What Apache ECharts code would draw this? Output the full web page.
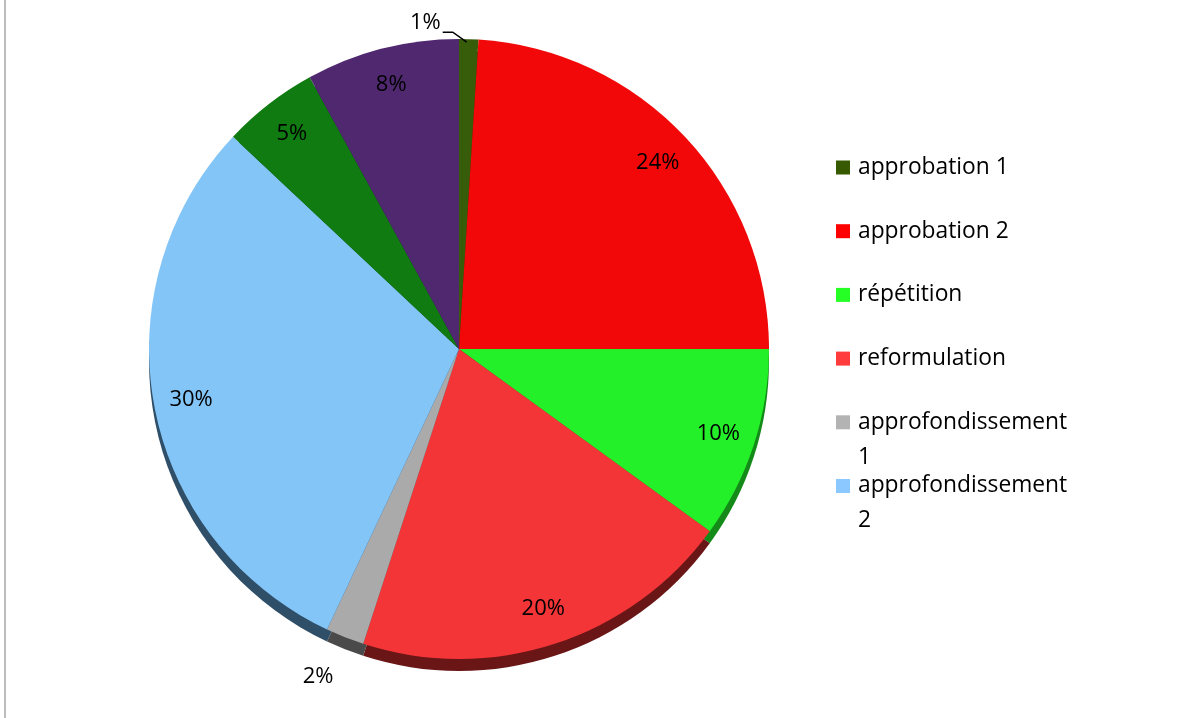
<!DOCTYPE html>
<html>
<head>
<meta charset="utf-8">
<script src="https://cdn.jsdelivr.net/npm/echarts@6/dist/echarts.min.js"></script>
<style>
html,body{margin:0;padding:0;background:#fff;}
#chart{width:1195px;height:718px;}
</style>
</head>
<body>
<div id="chart"></div>
<script>
const categories = ['approbation 1', 'approbation 2', 'répétition', 'reformulation', 'approfondissement 1', 'approfondissement 2', 'série 7', 'série 8'];
const values = [1, 24, 10, 20, 2, 30, 5, 8];
const legendNames = ['approbation 1', 'approbation 2', 'répétition', 'reformulation', 'approfondissement 1', 'approfondissement 2'];
const colors = ['#385D0A', '#F20808', '#24F02A', '#F33538', '#AAAAAA', '#84C5F7', '#0F7B10', '#4F2870'];
const legendColors = ['#375A00', '#FF0000', '#26FF26', '#FF3B3B', '#B3B3B3', '#8AC8FF', '#0F7B10', '#4F2870'];
const sideColors = ['#223A06', '#6E0A0A', '#148A18', '#6A1616', '#4A4A4A', '#2F4E68', '#084008', '#2A1540'];

const C = [459, 349];
const R = 310;

const chart = echarts.init(document.getElementById('chart'));

const mainData = categories.map((n, i) => ({
  name: n, value: values[i],
  itemStyle: {color: colors[i]}
}));
const sideData = categories.map((n, i) => ({
  name: n, value: values[i],
  itemStyle: {color: sideColors[i]}
}));
const labelData = categories.map((n, i) => {
  const d = {name: n, value: values[i], itemStyle: {color: 'rgba(0,0,0,0)'}};
  if (i === 0) {
    d.label = {position: 'outside'};
    d.labelLine = {show: true, length: 10, length2: 10, lineStyle: {color: '#000', width: 1.5}};
  } else if (i === 4) {
    d.label = {position: 'outside'};
    d.labelLine = {show: false, length: 42, length2: 0};
  }
  return d;
});

chart.setOption({
  animation: false,
  backgroundColor: '#fff',
  graphic: [{
    type: 'line', silent: true,
    shape: {x1: 5, y1: 0, x2: 5, y2: 718},
    style: {stroke: '#BDBDBD', lineWidth: 2}
  }],
  legend: {
    orient: 'vertical',
    left: 836, top: 115,
    padding: 0,
    itemWidth: 14, itemHeight: 14,
    itemGap: -41.3,
    icon: 'rect',
    data: legendNames.map((n) => ({name: n, itemStyle: {color: legendColors[categories.indexOf(n)]}})),
    selectedMode: false,
    formatter: function (name) {
      let l1 = name, l2 = ' ';
      if (name.length > 16) {
        const k = name.lastIndexOf(' ');
        l1 = name.slice(0, k); l2 = name.slice(k + 1);
      }
      return ' \n' + l1 + '\n' + l2;
    },
    textStyle: {fontFamily: 'Open Sans', fontSize: 22.8, color: '#000', lineHeight: 35, padding: [0, 0, 0, 3]}
  },
  series: [
    {
      type: 'pie', silent: true, z: 1,
      center: [C[0], C[1] + 12], radius: R,
      startAngle: 90, clockwise: true,
      label: {show: false}, labelLine: {show: false},
      itemStyle: {borderWidth: 0},
      data: sideData
    },
    {
      type: 'pie', silent: true, z: 2,
      center: C, radius: R,
      startAngle: 90, clockwise: true,
      label: {show: false}, labelLine: {show: false},
      itemStyle: {borderWidth: 0},
      data: mainData
    },
    {
      type: 'pie', silent: true, z: 3,
      center: C, radius: [R * 0.74, R],
      startAngle: 90, clockwise: true,
      avoidLabelOverlap: false,
      legendHoverLink: false,
      itemStyle: {borderWidth: 0},
      label: {
        show: true, position: 'inside',
        formatter: '{d}%',
        fontFamily: 'Open Sans', fontSize: 22, color: '#000'
      },
      labelLayout: function (p) {
        if (p.dataIndex === 0 && p.labelLinePoints) {
          const pts = p.labelLinePoints;
          const x0 = pts[0][0];
          const m = [
            [pts[0][0] - 2, pts[0][1] + 3],
            [x0 - 16, pts[1][1] + 3],
            [x0 - 26, pts[2][1] + 3]
          ];
          return {
            x: m[2][0] - 2,
            y: m[2][1] - 9,
            align: 'right', verticalAlign: 'middle',
            labelLinePoints: m
          };
        }
        if (p.dataIndex === 4) return {dx: 9};
        return {};
      },
      data: labelData
    }
  ]
});
</script>
</body>
</html>
